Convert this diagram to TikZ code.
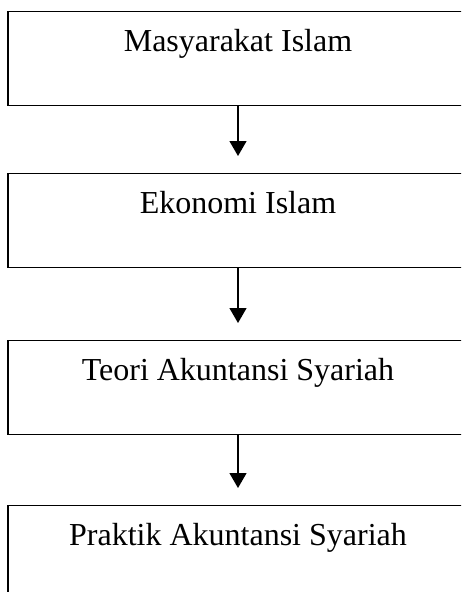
\documentclass[tikz,border=0pt]{standalone}
\usepackage{fontspec}
\setmainfont{Liberation Serif}
\usetikzlibrary{arrows.meta}
\begin{document}
\begin{tikzpicture}[x=1pt, y=-1pt,
        box/.style={draw, line width=1.3pt, rectangle, inner sep=0pt, minimum width=460pt,
                    text height=40pt, text depth=54pt, anchor=north, font=\fontsize{32}{38}\selectfont},
        flow/.style={-{Triangle[width=17pt, length=15pt]}, line width=1.3pt, shorten >=17pt}]
            \clip (0, 0) rectangle (461, 592);
            \node[box] (masyarakat) at (238, 11)  {Masyarakat Islam};
            \node[box] (ekonomi)    at (238, 173) {Ekonomi Islam};
            \node[box] (teori)      at (238, 340) {Teori Akuntansi Syariah};
            \node[box] (praktik)    at (238, 505) {Praktik Akuntansi Syariah};
            \draw[flow] (masyarakat) -- (ekonomi);
            \draw[flow] (ekonomi)    -- (teori);
            \draw[flow] (teori)      -- (praktik);
        \end{tikzpicture}
\end{document}
